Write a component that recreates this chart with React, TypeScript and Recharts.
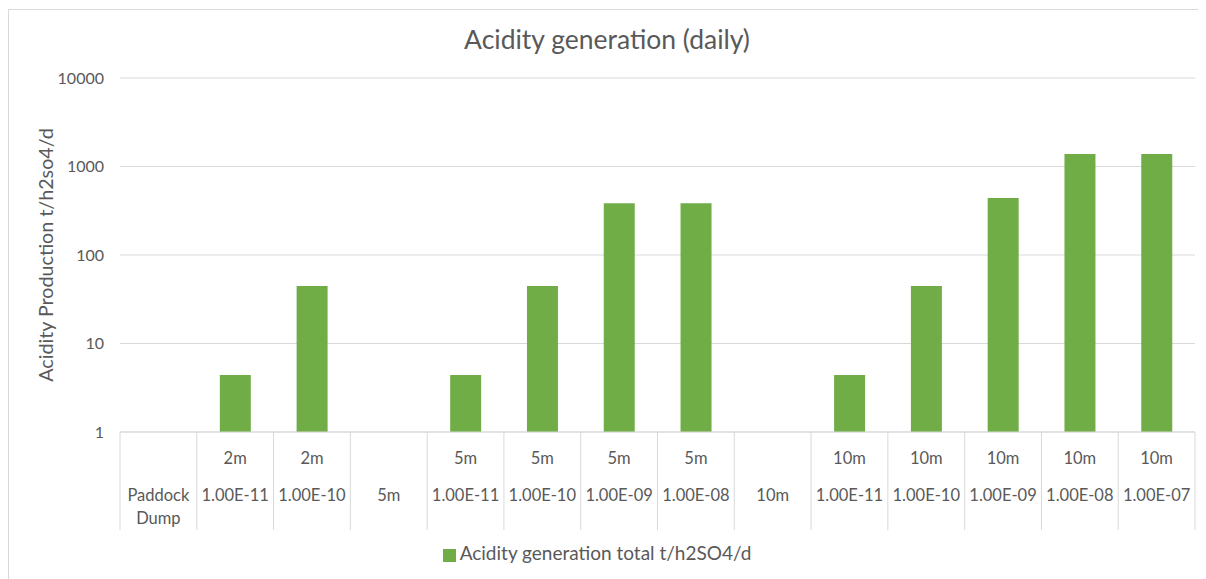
import React from 'react';
import { BarChart, Bar, XAxis, YAxis, CartesianGrid, Legend } from 'recharts';

const level1 = ['', '2m', '2m', '', '5m', '5m', '5m', '5m', '', '10m', '10m', '10m', '10m', '10m'];
const level2 = ['Paddock Dump', '1.00E-11', '1.00E-10', '5m', '1.00E-11', '1.00E-10', '1.00E-09', '1.00E-08', '10m', '1.00E-11', '1.00E-10', '1.00E-09', '1.00E-08', '1.00E-07'];
const acidity: (number | null)[] = [null, 4.4, 44.5, null, 4.4, 44.5, 384, 384, null, 4.4, 44.5, 440, 1385, 1385];
const yTicks = [1, 10, 100, 1000, 10000];

const seriesName = 'Acidity generation total t/h2SO4/d';
const data = level2.map((l2, i) => ({ key: String(i), l1: level1[i], l2, value: acidity[i] }));

const FONT = 'Lato, "Open Sans", sans-serif';
const TEXT = '#595959';
const GRID = '#d9d9d9';
const GREEN = '#70ad47';

const CHART_W = 1200;
const CHART_H = 570;
const MARGIN = { top: 68, right: 14, left: 0, bottom: 14 };
const Y_W = 111;
const PLOT_W = CHART_W - MARGIN.left - MARGIN.right - Y_W;
const BAND = PLOT_W / level2.length;

const XTick = (props: any) => {
  const { x, y, payload, index } = props;
  const i = Number(payload.value);
  const half = BAND / 2;
  const top = y; // axis line
  const l1 = level1[i];
  const l2 = level2[i];
  const words = l2.includes(' ') ? l2.split(' ') : [l2];
  return (
    <g>
      <line x1={x - half} x2={x - half} y1={top} y2={top + 98} stroke={GRID} strokeWidth={1} />
      {index === level2.length - 1 && (
        <line x1={x + half} x2={x + half} y1={top} y2={top + 98} stroke={GRID} strokeWidth={1} />
      )}
      {l1 && (
        <text x={x} y={top + 25.5} textAnchor="middle" dominantBaseline="central" fill={TEXT} fontSize={16.5} fontFamily={FONT}>
          {l1}
        </text>
      )}
      {words.map((w, k) => (
        <text key={k} x={x} y={top + 62.5 + k * 23} textAnchor="middle" dominantBaseline="central" fill={TEXT} fontSize={16.5} fontFamily={FONT}>
          {w}
        </text>
      ))}
    </g>
  );
};

const YLabel = (props: any) => {
  const vb = props.viewBox || {};
  const cx = 36;
  const cy = (vb.y ?? 0) + (vb.height ?? 0) / 2;
  return (
    <text x={cx} y={cy} transform={`rotate(-90 ${cx} ${cy})`} textAnchor="middle" dominantBaseline="central" fill={TEXT} fontSize={19.7} fontFamily={FONT}>
      Acidity Production t/h2so4/d
    </text>
  );
};

export default function App() {
  return (
    <div style={{ marginTop: 1, width: 1210, height: 580, borderTop: `1px solid ${GRID}`, borderLeft: `1px solid ${GRID}`, background: '#fff', position: 'relative', boxSizing: 'border-box', fontFamily: FONT }}>
      <div style={{ position: 'absolute', left: 0, top: 13, width: 1196, textAlign: 'center', fontSize: 26.5, color: TEXT, fontFamily: FONT }}>
        Acidity generation (daily)
      </div>
      <BarChart width={CHART_W} height={CHART_H} data={data} margin={MARGIN} barCategoryGap="30%">
        <CartesianGrid vertical={false} stroke={GRID} strokeWidth={1} />
        <XAxis
          dataKey="key"
          height={109}
          interval={0}
          axisLine={{ stroke: GRID }}
          tickLine={false}
          tickSize={0}
          tickMargin={0}
          tick={<XTick />}
        />
        <YAxis
          scale="log"
          domain={[1, 10000]}
          ticks={yTicks}
          allowDataOverflow
          width={Y_W}
          axisLine={false}
          tickLine={false}
          tickSize={0}
          tickMargin={16}
          tick={{ fill: TEXT, fontSize: 16, fontFamily: FONT }}
          label={<YLabel />}
        />
        <Legend
          verticalAlign="bottom"
          align="center"
          iconType="square"
          iconSize={13}
          formatter={(v: any) => <span style={{ color: TEXT, fontSize: 19, fontFamily: FONT }}>{v}</span>}
          wrapperStyle={{ lineHeight: '24px' }}
        />
        <Bar dataKey="value" name={seriesName} fill={GREEN} isAnimationActive={false} />
      </BarChart>
    </div>
  );
}
